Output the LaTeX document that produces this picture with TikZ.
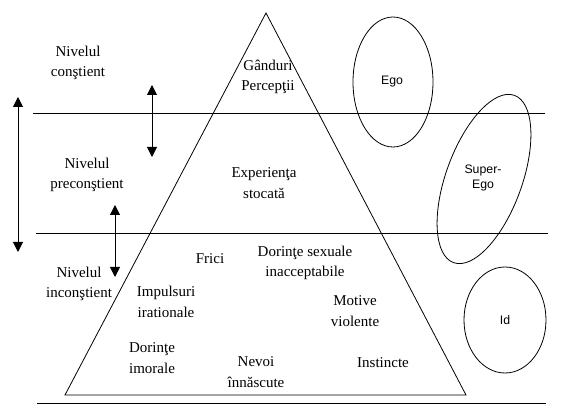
\documentclass[tikz,border=0pt]{standalone}
\usepackage{fontspec}
\setmainfont{Liberation Serif}
\setsansfont{Liberation Sans}
\usetikzlibrary{arrows.meta}
\begin{document}
\begin{tikzpicture}[x=1pt,y=-1pt,
  lbl/.style={align=center, inner sep=0pt, font=\fontsize{15}{20.5}\selectfont},
  slbl/.style={align=center, inner sep=0pt, font=\sffamily\fontsize{12.3}{15}\selectfont},
  lvl/.style={line width=1pt},
  edgeline/.style={line width=0.8pt, line join=miter},
  dbl/.style={line width=1pt, {Triangle[length=10pt,width=10pt]}-{Triangle[length=10pt,width=10pt]}},
  oval/.style={line width=0.8pt}]
\useasboundingbox (0,0) rectangle (582,419);
% pyramid
\coordinate (apex) at (266,13);
\coordinate (bl) at (65,395);
\coordinate (br) at (466,395);
\draw[edgeline] (apex) -- (bl) -- (br) -- cycle;
% level lines
\coordinate (l1a) at (33,114); \coordinate (l1b) at (545,114);
\coordinate (l2a) at (36,234); \coordinate (l2b) at (548,234);
\coordinate (l3a) at (37,404); \coordinate (l3b) at (546,404);
\draw[lvl] (l1a) -- (l1b);
\draw[lvl] (l2a) -- (l2b);
\draw[lvl] (l3a) -- (l3b);
% arrows
\coordinate (a1t) at (18,97);  \coordinate (a1b) at (18,252);
\coordinate (a2t) at (152,85); \coordinate (a2b) at (152,157);
\coordinate (a3t) at (115,205); \coordinate (a3b) at (115,277);
\draw[dbl] (a1t) -- (a1b);
\draw[dbl] (a2t) -- (a2b);
\draw[dbl] (a3t) -- (a3b);
% ellipses
\draw[oval] (393,82) ellipse [x radius=40pt, y radius=65pt];
\draw[oval, rotate around={-20:(484,179)}] (484,179) ellipse [x radius=38pt, y radius=89pt];
\draw[oval] (505,320) ellipse [x radius=41pt, y radius=53pt];
% labels
\node[lbl] (ncon) at (78,63) {Nivelul\\conştient};
\node[lbl] (npre) at (87,175) {Nivelul\\preconştient};
\node[lbl] (ninc) at (79,284) {Nivelul\\inconştient};
\node[lbl] (gand) at (268,77) {Gânduri\\Percepţii};
\node[lbl] (exp) at (264,183) {Experienţa\\stocată};
\node[lbl] (frici) at (210,259) {Frici};
\node[lbl] (dsex) at (305,263) {Dorinţe sexuale\\inacceptabile};
\node[lbl] (impl) at (166,302) {Impulsuri\\irationale};
\node[lbl] (motv) at (355,311) {Motive\\violente};
\node[lbl] (dimo) at (152,358) {Dorinţe\\imorale};
\node[lbl] (nevoi) at (256,372) {Nevoi\\înnăscute};
\node[lbl] (inst) at (383,363) {Instincte};
\node[slbl] (ego) at (392,82) {Ego};
\node[slbl] (sego) at (483,178) {Super-\\Ego};
\node[slbl] (id) at (505,320) {Id};
\end{tikzpicture}
\end{document}
